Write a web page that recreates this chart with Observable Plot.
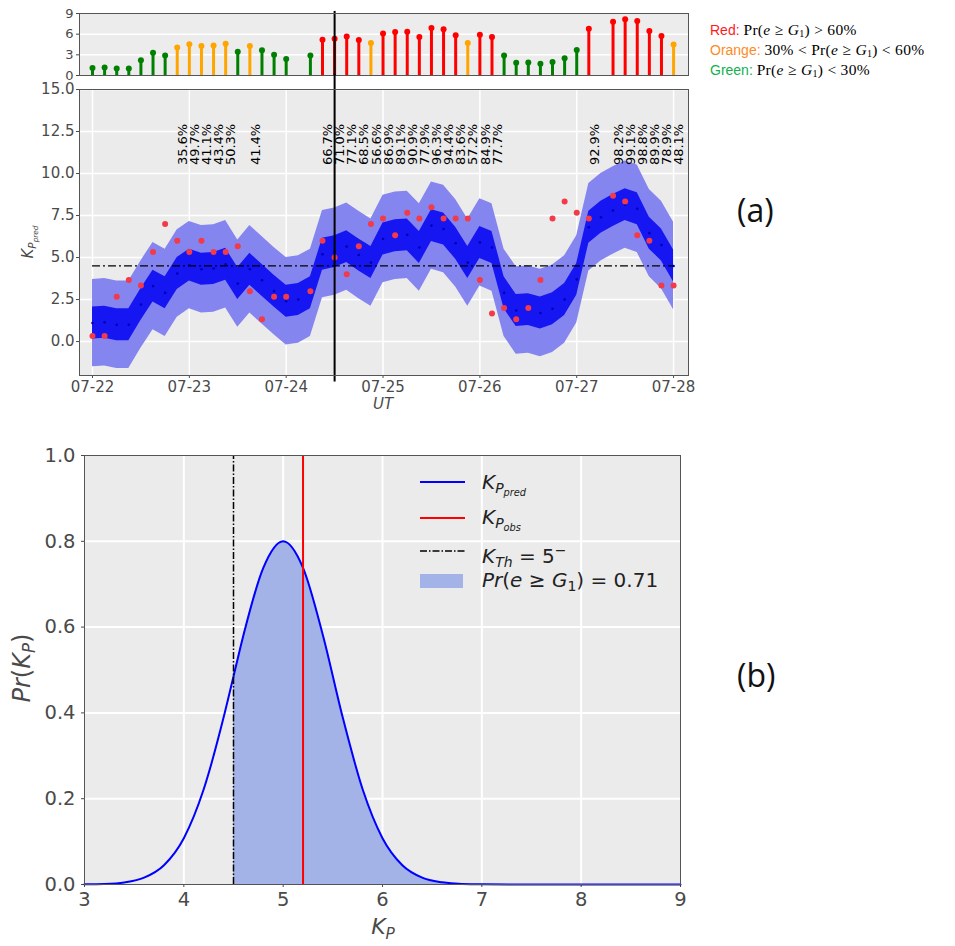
<!DOCTYPE html>
<html><head><meta charset="utf-8">
<script src="https://cdn.jsdelivr.net/npm/d3@7"></script>
<script src="https://cdn.jsdelivr.net/npm/@observablehq/plot@0.6"></script>
<style>
body{margin:0;background:#fff;}
#root{position:relative;width:955px;height:946px;overflow:hidden;font-family:"DejaVu Sans",sans-serif;}
#root svg{position:absolute;left:0;}
.abs{position:absolute;white-space:nowrap;}
.m{font-family:"Liberation Serif","DejaVu Serif",serif;font-size:15.5px;line-height:15px;color:#000;letter-spacing:0.3px;}
sub{font-size:70%;vertical-align:-0.3em;line-height:0;}
.m sub{font-size:65%;vertical-align:-0.2em;}
</style></head><body><div id="root"></div>
<script>
// ---------- data ----------
const startDay = Date.UTC(2017, 6, 22);   // 07-22 00:00 UT, 3-hourly Kp
const kpPred = [1.1,1.15,1.0,1.0,2.2,3.3,2.9,4.05,4.55,4.3,
                4.35,4.6,3.45,4.3,3.65,3.0,2.4,2.5,2.9,5.2,
                5.35,5.65,5.15,4.7,6.1,6.3,6.35,5.6,6.9,6.7,
                5.85,4.7,5.9,5.6,2.9,1.85,1.9,1.7,1.95,2.5,
                3.7,6.8,7.4,7.8,8.15,7.9,6.45,5.75,4.5];
const kpObs = [0.33,0.33,2.67,3.67,3.33,5.33,7.0,6.0,5.33,6.0,
               5.33,5.33,5.67,3.0,1.33,2.67,2.67,null,3.0,6.0,
               5.0,4.0,5.67,7.0,7.33,6.33,7.67,7.33,8.0,7.33,
               7.33,7.33,3.67,1.67,2.0,1.33,2.0,3.67,7.33,8.33,
               7.67,7.33,null,8.67,8.33,6.33,6.0,3.33,3.33];
const probPct = [null,null,null,null,null,null,null,35.6,49.7,41.1,
                 43.4,50.3,null,41.4,null,null,null,null,null,66.7,
                 71.0,77.1,68.5,56.6,86.9,89.1,90.9,77.9,96.3,94.4,
                 83.6,57.2,84.9,77.7,null,null,null,null,null,null,
                 null,92.9,null,98.2,99.1,98.8,89.9,78.9,48.1];
const innerHalfWidth = 0.95;   // dark band half width
const outerHalfWidth = 2.6;    // light band half width
const kpThreshold = 4.5;       // 5-
const eventIndex = 20;         // vertical marker (07-24 12 UT)
const dayLabels = ["07-22","07-23","07-24","07-25","07-26","07-27","07-28"];
const midYTicks = [0, 2.5, 5, 7.5, 10, 12.5, 15];
const topYTicks = [0, 3, 6, 9];

// panel (b)
const pdfX = [3,3.2,3.4,3.6,3.8,4.0,4.2,4.4,4.5,4.6,4.8,5.0,5.2,5.4,5.6,5.8,6.0,6.2,6.4,6.6,6.8,7.0,7.5,8,8.5,9];
const pdfY = [0.0003,0.0012,0.0048,0.016,0.045,0.108,0.222,0.389,0.485,0.581,0.738,0.8,0.738,0.581,0.389,0.222,0.108,0.045,0.016,0.005,0.001,0.0003,0,0,0,0];
const kpObsSel = 5.2;
const probSel = 0.71;
const botXTicks = [3,4,5,6,7,8,9];
const botYTicks = [0,0.2,0.4,0.6,0.8,1.0];

// ---------- derived tables ----------
const H = 3600e3;
const rows = kpPred.map((m, i) => ({
  t: new Date(startDay + i * 3 * H), m, obs: kpObs[i], p: probPct[i]
}));
const colorOf = p => p == null ? "#008000" : p > 60 ? "#ff0000" : p > 30 ? "#ffa500" : "#008000";
const stems = rows.filter(d => d.obs != null);
const labels = rows.filter(d => d.p != null);
const dayDates = dayLabels.map((_, i) => new Date(startDay + i * 24 * H));
const eventTime = rows[eventIndex].t;
const xDomain = [new Date(startDay - 3.22 * H), new Date(startDay + 6 * 24 * H + 3.7 * H)];
const pdf = pdfX.map((x, i) => ({x, y: pdfY[i]}));

const root = document.getElementById("root");
const baseStyle = {background: "transparent", overflow: "visible", fontFamily: "DejaVu Sans", color: "#4a4a4a"};

// ---------- top stem panel ----------
const topPlot = Plot.plot({
  width: 955, height: 80, marginTop: 14, marginBottom: 4, marginLeft: 79, marginRight: 267,
  style: {...baseStyle, fontSize: "13px"},
  x: {type: "utc", domain: xDomain, axis: null},
  y: {domain: [0, 9], ticks: topYTicks, tickSize: 3, tickPadding: 3, label: null},
  color: {type: "identity"},
  marks: [
    Plot.frame({fill: "#ececec"}),
    Plot.ruleY([3, 6], {stroke: "white", strokeWidth: 1.5}),
    Plot.ruleX(stems, {x: "t", y1: 0, y2: "m", stroke: d => colorOf(d.p), strokeWidth: 3}),
    Plot.dot(stems, {x: "t", y: "m", r: 3, fill: d => colorOf(d.p), stroke: null}),
    Plot.ruleX([eventTime], {y1: 0, y2: 9.3, stroke: "black", strokeWidth: 2}),
    Plot.frame({stroke: "#555"})
  ]
});
topPlot.style.top = "-1.5px";
root.appendChild(topPlot);

// ---------- middle panel (a) ----------
const midPlot = Plot.plot({
  width: 955, height: 340, marginTop: 9, marginBottom: 45, marginLeft: 79, marginRight: 267,
  style: {...baseStyle, fontSize: "15px"},
  x: {type: "utc", domain: xDomain, ticks: dayDates, tickFormat: (d, i) => dayLabels[i], tickSize: 3, tickPadding: 3, label: null},
  y: {domain: [-2.02, 15], ticks: midYTicks, tickFormat: d3.format(".1f"), tickSize: 3, tickPadding: 2, label: null},
  marks: [
    Plot.frame({fill: "#ebebeb"}),
    Plot.ruleY(midYTicks, {stroke: "white", strokeWidth: 1.5}),
    Plot.ruleX(dayDates, {stroke: "white", strokeWidth: 1.5}),
    Plot.areaY(rows, {x: "t", y1: d => d.m - outerHalfWidth, y2: d => d.m + outerHalfWidth, fill: "#8585f0"}),
    Plot.areaY(rows, {x: "t", y1: d => d.m - innerHalfWidth, y2: d => d.m + innerHalfWidth, fill: "#1616f2"}),
    Plot.dot(rows, {x: "t", y: "m", r: 1.3, fill: "#0000b4", stroke: null}),
    Plot.ruleY([kpThreshold], {x1: rows[0].t, x2: rows[rows.length - 1].t, stroke: "black", strokeWidth: 1.3, strokeDasharray: "8,3,2,3"}),
    Plot.dot(stems, {x: "t", y: "obs", r: 3, fill: "#f23a48", stroke: null}),
    Plot.text(labels, {x: "t", y: 10.5, text: d => d.p.toFixed(1) + "%", rotate: -90, textAnchor: "start", dx: 5.5, fontSize: 13, fill: "black"}),
    Plot.ruleX([eventTime], {y1: -2.4, y2: 15.9, stroke: "black", strokeWidth: 2}),
    Plot.frame({stroke: "#555"})
  ]
});
midPlot.style.top = "80px";
root.appendChild(midPlot);

// ---------- bottom panel (b) ----------
const botPlot = Plot.plot({
  width: 955, height: 516, marginTop: 25, marginBottom: 62, marginLeft: 84, marginRight: 275,
  style: {...baseStyle, fontSize: "19.5px"},
  x: {domain: [3, 9], ticks: botXTicks, tickFormat: d3.format("d"), tickSize: 3, tickPadding: 5, label: null},
  y: {domain: [0, 1], ticks: botYTicks, tickFormat: d3.format(".1f"), tickSize: 3, tickPadding: 6, label: null},
  marks: [
    Plot.frame({fill: "#ebebeb"}),
    Plot.ruleX([4, 5, 6, 7, 8], {stroke: "white", strokeWidth: 2}),
    Plot.ruleY([0.2, 0.4, 0.6, 0.8], {stroke: "white", strokeWidth: 2}),
    Plot.areaY(pdf.filter(d => d.x >= kpThreshold), {x: "x", y: "y", fill: "#a3b3e8", curve: "monotone-x"}),
    Plot.line(pdf, {x: "x", y: "y", stroke: "#0000ff", strokeWidth: 2, curve: "monotone-x"}),
    Plot.ruleX([kpThreshold], {y1: 0, y2: 1, stroke: "black", strokeWidth: 1.5, strokeDasharray: "7,2,1.5,2"}),
    Plot.ruleX([kpObsSel], {y1: 0, y2: 1, stroke: "#ff0000", strokeWidth: 2}),
    Plot.frame({stroke: "#555"})
  ]
});
botPlot.style.top = "430px";
root.appendChild(botPlot);

// ---------- extra texts / legends ----------
function add(html, style) {
  const d = document.createElement("div");
  d.className = "abs";
  d.innerHTML = html;
  Object.assign(d.style, style);
  root.appendChild(d);
  return d;
}
const mathG = '<span class="m">Pr(<i>e</i> ≥ <i>G</i><sub>1</sub>)';
const lg = {left: "710px", fontSize: "14px", lineHeight: "15px", fontFamily: "Liberation Sans"};
add('<span style="color:#ff1a1a">Red:</span> ' + mathG + ' &gt; 60%</span>', {...lg, top: "22px"});
add('<span style="color:#ff8a1e">Orange:</span> <span class="m">30% &lt; </span>' + mathG + ' &lt; 60%</span>', {...lg, top: "42px"});
add('<span style="color:#12b050">Green:</span> ' + mathG + ' &lt; 30%</span>', {...lg, top: "62px"});

add("(a)", {left: "737px", top: "190px", fontSize: "32px", lineHeight: "40px", fontFamily: "Open Sans", color: "#111"});
add("(b)", {left: "737px", top: "655px", fontSize: "32px", lineHeight: "40px", fontFamily: "Open Sans", color: "#111"});
add("<i>UT</i>", {left: "383px", top: "404px", transform: "translate(-50%,-50%)", fontSize: "15px", color: "#4a4a4a"});
add("<i>K</i><sub><i>P</i><sub><i>pred</i></sub></sub>", {left: "28px", top: "242px", fontSize: "15px", color: "#4a4a4a", transform: "translate(-50%,-50%) rotate(-90deg)"});
add("<i>Pr</i>(<i>K</i><sub><i>P</i></sub>)", {left: "22px", top: "668px", fontSize: "24px", color: "#4a4a4a", transform: "translate(-50%,-50%) rotate(-90deg)"});
add("<i>K</i><sub><i>P</i></sub>", {left: "383px", top: "927px", fontSize: "22px", lineHeight: "24px", color: "#4a4a4a", transform: "translate(-50%,-50%)"});

// bottom legend
add("", {left: "420px", top: "481px", width: "45px", borderTop: "2px solid #0000ff"});
add("", {left: "420px", top: "517px", width: "45px", borderTop: "2px solid #ff0000"});
add('<svg width="46" height="4"><line x1="0" y1="2" x2="46" y2="2" stroke="black" stroke-width="1.5" stroke-dasharray="7,2,1.5,2"/></svg>', {left: "420px", top: "549px", lineHeight: "0"});
add("", {left: "420px", top: "574px", width: "43px", height: "14px", background: "#a3b3e8"});
const legStyle = {left: "482px", fontSize: "20px", lineHeight: "22px", color: "#222"};
add("<i>K</i><sub><i>P</i><sub><i>pred</i></sub></sub>", {...legStyle, top: "471px"});
add("<i>K</i><sub><i>P</i><sub><i>obs</i></sub></sub>", {...legStyle, top: "506px"});
add("<i>K</i><sub><i>Th</i></sub> = 5<sup style='font-size:70%'>−</sup>", {...legStyle, top: "539px"});
add("<i>Pr</i>(<i>e</i> ≥ <i>G</i><sub>1</sub>) = " + probSel.toFixed(2), {...legStyle, top: "569px"});
</script></body></html>
